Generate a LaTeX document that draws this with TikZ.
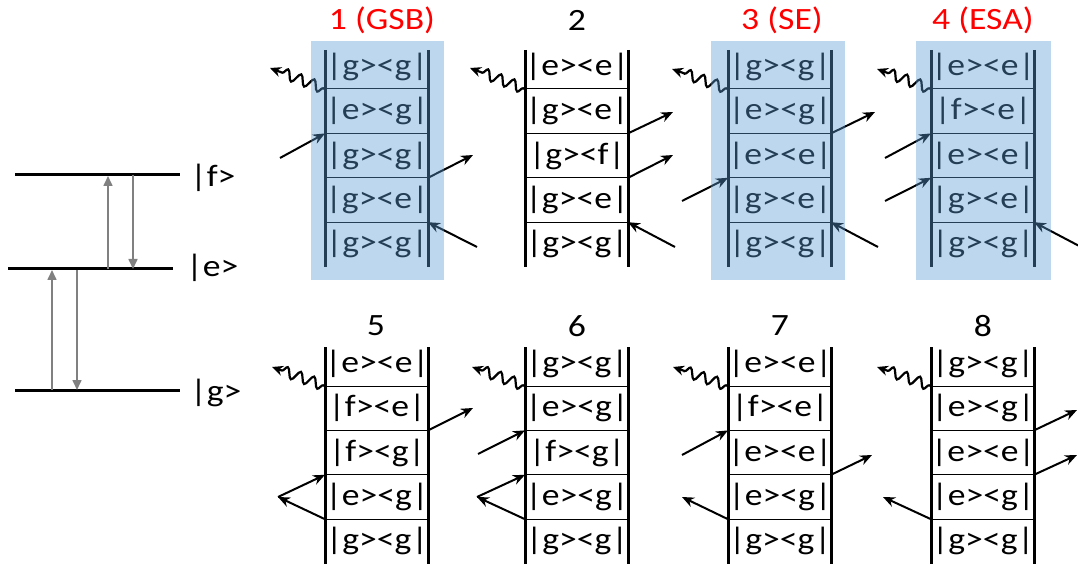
\documentclass[tikz,border=0pt]{standalone}
\usepackage{fontspec}
\setmainfont{Carlito}[FakeStretch=1.15]
\usetikzlibrary{arrows.meta, decorations.pathmorphing}
\definecolor{boxblue}{RGB}{91,155,213}
\definecolor{levelgray}{RGB}{128,128,128}
\definecolor{titlered}{RGB}{255,0,0}

\begin{document}
\begin{tikzpicture}[x=0.5pt, y=-0.5pt,
    ket/.style={font=\fontsize{15.5}{18}\selectfont, inner sep=0pt},
    heading/.style={font=\fontsize{15.5}{18}\selectfont, inner sep=0pt},
    bar/.style={line width=1.5pt},
    rung/.style={line width=0.5pt},
    beam/.style={-{Stealth[length=6pt,width=5pt]}, line width=1pt},
    photon/.style={-{Stealth[length=5.5pt,width=5pt]}, line width=1.1pt,
      decorate, decoration={snake, amplitude=2.6pt, segment length=7pt,
      pre length=1pt, post length=5pt}},
    level/.style={line width=1.5pt},
    trans/.style={-{Triangle[length=5pt,width=4.5pt]}, levelgray, line width=0.8pt},
    hilite/.style={fill=boxblue, fill opacity=0.4, draw=none}]
  \useasboundingbox (0,0) rectangle (1078,567);

  % Energy levels
  \coordinate (fL) at (15,175);  \coordinate (fR) at (180,175);
  \coordinate (eL) at (8,269);   \coordinate (eR) at (173,269);
  \coordinate (gL) at (15,390);  \coordinate (gR) at (180,390);
  \draw[level] (fL) -- (fR);
  \draw[level] (eL) -- (eR);
  \draw[level] (gL) -- (gR);
  \node[ket, anchor=west] (flab) at (190,178) {|f>};
  \node[ket, anchor=west] (elab) at (186,268) {|e>};
  \node[ket, anchor=west] (glab) at (190,393) {|g>};

  % Transitions between levels
  \coordinate (ga) at (52,390);  \coordinate (ea) at (52,270);
  \coordinate (eb) at (77,270);  \coordinate (gb) at (77,390);
  \coordinate (ec) at (108,269); \coordinate (fc) at (108,176);
  \coordinate (fd) at (133,175); \coordinate (ed) at (133,269);
  \draw[trans] (ga) -- (ea);
  \draw[trans] (eb) -- (gb);
  \draw[trans] (ec) -- (fc);
  \draw[trans] (fd) -- (ed);

  % Double-sided ladders
  \foreach \n/\x/\y/\kets in {
      1/325/89/{g><g,e><g,g><g,g><e,g><g},
      2/525/89/{e><e,g><e,g><f,g><e,g><g},
      3/728/89/{g><g,e><g,e><e,g><e,g><g},
      4/931/89/{e><e,f><e,e><e,g><e,g><g},
      5/325/386/{e><e,f><e,f><g,e><g,g><g},
      6/525/386/{g><g,e><g,f><g,e><g,g><g},
      7/728/386/{e><e,f><e,e><e,e><g,g><g},
      8/931/386/{g><g,e><g,e><e,e><g,g><g}} {
    \foreach \k [count=\j from 0] in \kets
      \node[ket] (\n k\j) at ({\x+52}, {\y-22.2+44.4*\j}) {|\k|};
    \foreach \j in {1,...,4} {
      \coordinate (\n l\j) at ({\x}, {\y+44.4*(\j-1)});
      \coordinate (\n r\j) at ({\x+103}, {\y+44.4*(\j-1)});
      \draw[rung] (\n l\j) -- (\n r\j);
    }
    \coordinate (\n lt) at ({\x}, {\y-39});
    \coordinate (\n lb) at ({\x}, {\y+178});
    \coordinate (\n rt) at ({\x+103}, {\y-39});
    \coordinate (\n rb) at ({\x+103}, {\y+178});
    \draw[bar] (\n lt) -- (\n lb);
    \draw[bar] (\n rt) -- (\n rb);
  }

  % Titles
  \node[heading, titlered] (t1) at (382,20) {1 (GSB)};
  \node[heading] (t2) at (577,20) {2};
  \node[heading, titlered] (t3) at (782,20) {3 (SE)};
  \node[heading, titlered] (t4) at (983,20) {4 (ESA)};
  \node[heading] (t5) at (376,326) {5};
  \node[heading] (t6) at (577,326) {6};
  \node[heading] (t7) at (780,326) {7};
  \node[heading] (t8) at (983,326) {8};

  % Fields, top row
  \coordinate (1w) at (270,68);  \coordinate (1a) at (280,158);
  \coordinate (1b) at (473,155); \coordinate (1c) at (477,247);
  \draw[photon] (1l1) -- (1w);
  \draw[beam] (1a) -- (1l2);
  \draw[beam] (1r3) -- (1b);
  \draw[beam] (1c) -- (1r4);

  \coordinate (2w) at (470,68);  \coordinate (2a) at (673,112);
  \coordinate (2b) at (673,155); \coordinate (2c) at (675,247);
  \draw[photon] (2l1) -- (2w);
  \draw[beam] (2r2) -- (2a);
  \draw[beam] (2r3) -- (2b);
  \draw[beam] (2c) -- (2r4);

  \coordinate (3w) at (672,69);  \coordinate (3a) at (682,201);
  \coordinate (3b) at (875,112); \coordinate (3c) at (878,247);
  \draw[photon] (3l1) -- (3w);
  \draw[beam] (3a) -- (3l3);
  \draw[beam] (3r2) -- (3b);
  \draw[beam] (3c) -- (3r4);

  \coordinate (4w) at (877,69);  \coordinate (4a) at (885,158);
  \coordinate (4b) at (885,201); \coordinate (4c) at (1083,248);
  \draw[photon] (4l1) -- (4w);
  \draw[beam] (4a) -- (4l2);
  \draw[beam] (4b) -- (4l3);
  \draw[beam] (4c) -- (4r4);

  % Fields, bottom row
  \coordinate (5w) at (272,367); \coordinate (5a) at (473,408);
  \coordinate (5v) at (278,497);
  \draw[photon] (5l1) -- (5w);
  \draw[beam] (5r2) -- (5a);
  \draw[beam] (5l4) -- (5v);
  \draw[beam] (5v) -- (5l3);

  \coordinate (6w) at (472,367); \coordinate (6a) at (478,454);
  \coordinate (6v) at (477,497);
  \draw[photon] (6l1) -- (6w);
  \draw[beam] (6a) -- (6l2);
  \draw[beam] (6l4) -- (6v);
  \draw[beam] (6v) -- (6l3);

  \coordinate (7w) at (673,367); \coordinate (7a) at (682,455);
  \coordinate (7b) at (872,455); \coordinate (7c) at (682,497);
  \draw[photon] (7l1) -- (7w);
  \draw[beam] (7a) -- (7l2);
  \draw[beam] (7r3) -- (7b);
  \draw[beam] (7l4) -- (7c);

  \coordinate (8w) at (877,367); \coordinate (8a) at (1077,410);
  \coordinate (8b) at (1077,455); \coordinate (8c) at (883,497);
  \draw[photon] (8l1) -- (8w);
  \draw[beam] (8r2) -- (8a);
  \draw[beam] (8r3) -- (8b);
  \draw[beam] (8l4) -- (8c);

  % Highlighted pathways
  \fill[hilite] (311,41) rectangle (444,280);
  \fill[hilite] (711,41) rectangle (845,280);
  \fill[hilite] (916,41) rectangle (1051,280);
\end{tikzpicture}
\end{document}
